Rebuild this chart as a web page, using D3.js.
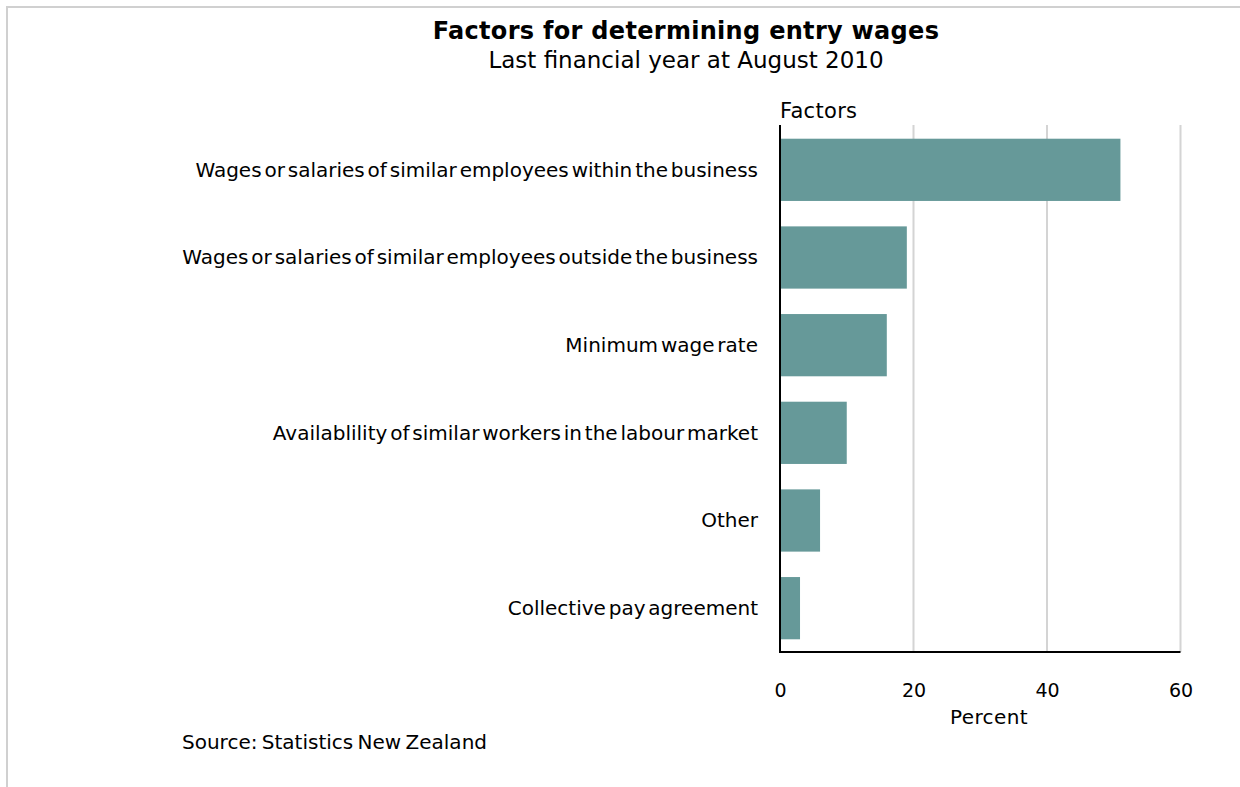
<!DOCTYPE html>
<html><head><meta charset="utf-8">
<script src="https://cdn.jsdelivr.net/npm/d3@7"></script>
<style>
html,body{margin:0;padding:0;background:#fff;}
svg text{font-family:"DejaVu Sans",Verdana,sans-serif;fill:#000;}
</style></head>
<body>
<script>
const categories = [
  "Wages or salaries of similar employees within the business",
  "Wages or salaries of similar employees outside the business",
  "Minimum wage rate",
  "Availablility of similar workers in the labour market",
  "Other",
  "Collective pay agreement"
];
const values = [51, 19, 16, 10, 6, 3];
const xTicks = [0, 20, 40, 60];
const titleText = "Factors for determining entry wages";
const subtitleText = "Last financial year at August 2010";
const yAxisTitle = "Factors";
const xAxisTitle = "Percent";
const sourceText = "Source: Statistics New Zealand";

const W = 1240, H = 787;
const FONT = "DejaVu Sans, Verdana, sans-serif";
const svg = d3.select("body").append("svg").attr("width", W).attr("height", H);

// frame
svg.append("line").attr("x1",6).attr("x2",W).attr("y1",7).attr("y2",7).attr("stroke","#d0d0d0").attr("stroke-width",2);
svg.append("line").attr("x1",7).attr("x2",7).attr("y1",6).attr("y2",H).attr("stroke","#d0d0d0").attr("stroke-width",2);

const pLeft = 780, pRight = 1180.5, pTop = 126, pBottom = 652;
const x = d3.scaleLinear().domain([0, 60]).range([pLeft, pRight]);
const y = d3.scaleBand().domain(categories).range([pTop, pBottom]).paddingInner(0.29).paddingOuter(0.145);

// gridlines
svg.append("g").selectAll("line").data(xTicks.filter(d => d > 0)).join("line")
  .attr("x1", d => x(d)).attr("x2", d => x(d))
  .attr("y1", pTop - 1).attr("y2", pBottom)
  .attr("stroke", "#d4d4d4").attr("stroke-width", 2);

// bars
svg.append("g").selectAll("rect").data(values).join("rect")
  .attr("x", x(0)).attr("y", (d, i) => y(categories[i]))
  .attr("width", d => x(d) - x(0)).attr("height", y.bandwidth())
  .attr("fill", "#669999");

// axes lines
svg.append("line").attr("x1", pLeft).attr("x2", pLeft).attr("y1", pTop - 1).attr("y2", pBottom + 1)
  .attr("stroke", "#000").attr("stroke-width", 2);
svg.append("line").attr("x1", pLeft).attr("x2", pRight).attr("y1", pBottom).attr("y2", pBottom)
  .attr("stroke", "#000").attr("stroke-width", 2);

// x tick labels via axis
const xAxis = d3.axisBottom(x).tickValues(xTicks).tickSize(0).tickPadding(0).tickFormat(d3.format("d"));
const gx = svg.append("g").attr("transform", `translate(0,${pBottom + 45})`).call(xAxis);
gx.select(".domain").remove();
gx.selectAll("text").attr("font-size", 19).attr("dy", 0).attr("font-family", FONT).attr("fill","#000");

// y category labels via axis
const yAxis = d3.axisLeft(y).tickSize(0).tickPadding(0);
const gy = svg.append("g").attr("transform", `translate(${pLeft - 22},0)`).call(yAxis);
gy.select(".domain").remove();
gy.selectAll("text").attr("font-size", 20).attr("word-spacing", "-3.5px").attr("font-family", FONT).attr("fill","#000").attr("dy","0.34em");

// titles
svg.append("text").attr("x", 686).attr("y", 39).attr("text-anchor","middle")
  .attr("font-size", 24).attr("font-weight","bold").attr("letter-spacing","0.3px").text(titleText);
svg.append("text").attr("x", 686).attr("y", 68).attr("text-anchor","middle")
  .attr("font-size", 23).text(subtitleText);
svg.append("text").attr("x", pLeft).attr("y", 118).attr("font-size", 21).attr("letter-spacing","0.3px").text(yAxisTitle);
svg.append("text").attr("x", 989).attr("y", 724).attr("text-anchor","middle").attr("font-size", 20).attr("letter-spacing","0.4px").text(xAxisTitle);
svg.append("text").attr("x", 182).attr("y", 749).attr("font-size", 20).attr("word-spacing","-2px").text(sourceText);
</script>
</body></html>
